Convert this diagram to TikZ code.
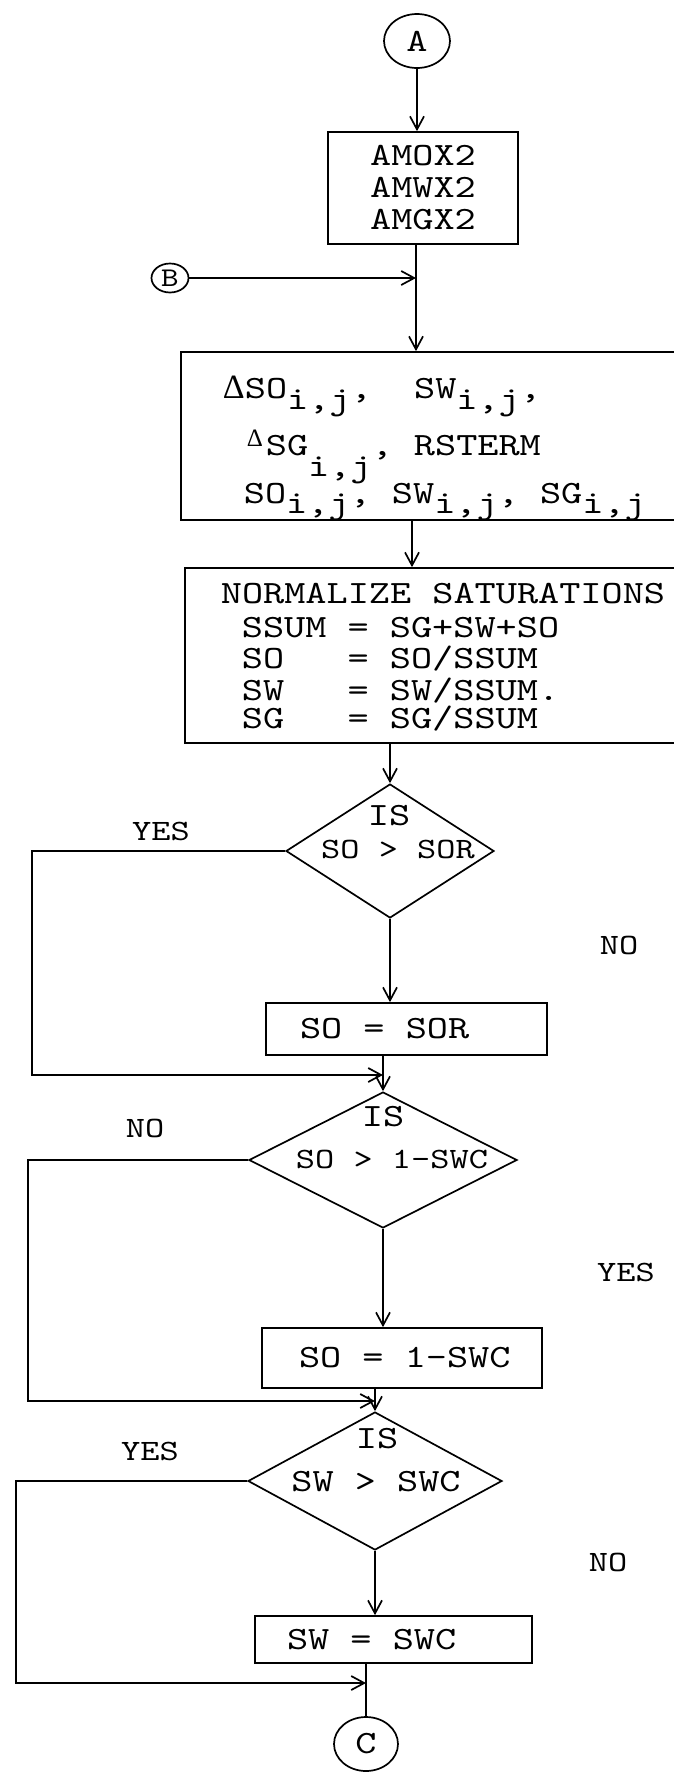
\documentclass[tikz,border=0pt]{standalone}
\usepackage{fontspec}
\usetikzlibrary{shapes.geometric,arrows.meta}
\newfontfamily\twfam{lmmono10-regular.otf}[FakeStretch=1.24,WordSpace={1,0,0}]
\newfontfamily\gfam{Liberation Serif}
\newcommand\tw{\twfam\fontsize{32.5}{32}\selectfont}
\newcommand\tws{\twfam\fontsize{29.5}{29}\selectfont}
\newcommand\twb{\twfam\fontsize{27}{27}\selectfont}
\newcommand\dbig{\gfam\fontsize{34}{34}\selectfont}
\newcommand\dsmall{\gfam\fontsize{25}{25}\selectfont}
\newcommand\lw[2]{\raisebox{-#1}{#2}}
\begin{document}
\begin{tikzpicture}[x=1pt,y=-1pt,
  line width=1.7pt,
  >={Straight Barb[length=13pt,width=14pt]},
  box/.style={draw, rectangle, inner sep=0pt, font=\tw},
  dia/.style={draw, diamond, inner sep=0pt},
  con/.style={draw, ellipse, inner sep=0pt, font=\tw},
  txt/.style={inner sep=0pt, font=\tw}]
\fill[white] (0,0) rectangle (674,1773);
\useasboundingbox (0,0) rectangle (674,1773);

% connectors (circles)
\node[con, minimum width=66, minimum height=54] (A) at (417,41) {A};
\node[con, minimum width=37, minimum height=29, font=\twb] (B) at (170,278) {B};
\node[con, minimum width=64, minimum height=54] (C) at (366,1744) {C};

% boxes
\node[box, minimum width=190, minimum height=112, align=center] (box1) at (423,188) {AMOX2\\AMWX2\\AMGX2};
\node[box, minimum width=510, minimum height=168] (box2) at (436,436) {};
\node[box, minimum width=510, minimum height=175] (box3) at (440,655.5) {};
\node[box, minimum width=281, minimum height=52] (box4) at (406.5,1029) {\makebox[213pt][l]{SO = SOR}};
\node[box, minimum width=280, minimum height=60] (box5) at (402,1358) {\makebox[206pt][l]{SO = 1-SWC}};
\node[box, minimum width=277, minimum height=47] (box6) at (393.5,1639.5) {\makebox[213pt][l]{SW = SWC}};

% box2 text
\node[txt, anchor=base west] (b2l1) at (222,398) {\makebox[22pt][c]{\dbig Δ}SO\lw{11pt}{i,j},\ \ SW\lw{11pt}{i,j},};
\node[txt, anchor=base west] (b2l2) at (243,455) {\raisebox{9pt}{\makebox[22pt][c]{\dsmall Δ}}SG\lw{21pt}{i,j},\ RSTERM};
\node[txt, anchor=base west] (b2l3) at (243,503) {SO\lw{10pt}{i,j},\ SW\lw{10pt}{i,j},\ SG\lw{10pt}{i,j}};

% box3 text
\node[txt, anchor=base west] (b3l1) at (220,603) {NORMALIZE SATURATIONS};
\node[txt, anchor=base west] (b3l2) at (241,637) {SSUM = SG+SW+SO};
\node[txt, anchor=base west] (b3l3) at (241,668) {SO\ \ \ = SO/SSUM};
\node[txt, anchor=base west] (b3l4) at (241,700) {SW\ \ \ = SW/SSUM.};
\node[txt, anchor=base west] (b3l5) at (241,728) {SG\ \ \ = SG/SSUM};

% decisions
\node[dia, minimum width=208, minimum height=134] (D1) at (390,851) {};
\node[dia, minimum width=268, minimum height=136] (D2) at (383,1160) {};
\node[dia, minimum width=254, minimum height=138] (D3) at (375,1481) {};
\node[txt] (d1a) at (389,816) {IS};
\node[txt, font=\tws] (d1b) at (398,849) {SO > SOR};
\node[txt] (d2a) at (383,1117) {IS};
\node[txt, font=\tws] (d2b) at (392,1159) {SO > 1-SWC};
\node[txt] (d3a) at (377,1439) {IS};
\node[txt] (d3b) at (376,1482) {SW > SWC};

% branch labels
\node[txt, font=\tws] (yes1) at (161,831) {YES};
\node[txt, font=\tws] (no1) at (619,945) {NO};
\node[txt, font=\tws] (no2) at (145,1128) {NO};
\node[txt, font=\tws] (yes2) at (626,1272) {YES};
\node[txt, font=\tws] (yes3) at (150,1451) {YES};
\node[txt, font=\tws] (no3) at (608,1562) {NO};

% main flow
\coordinate (jB) at (416,278);
\coordinate (c2) at (412,0);
\draw[->] (A) -- (A |- box1.north);
\draw[->] (jB |- box1.south) -- (jB |- box2.north);
\draw[->] (B) -- (jB);
\draw[->] (c2 |- box2.south) -- (c2 |- box3.north);
\draw[->] (D1 |- box3.south) -- (D1.north);
\draw[->] (D1.south) -- (D1 |- box4.north);
\draw[->] (D2 |- box4.south) -- (D2.north);
\draw[->] (D2.south) -- (D2 |- box5.north);
\draw[->] (D3 |- box5.south) -- (D3.north);
\draw[->] (D3.south) -- (D3 |- box6.north);
\draw (C |- box6.south) -- (C.north);

% bypass loops
\coordinate (L1) at (32,1075);
\coordinate (m1) at (D2.north |- L1);
\draw[->] (D1.west) -| (L1) -- (m1);
\coordinate (L2) at (28,1401);
\coordinate (m2) at (D3.north |- L2);
\draw[->] (D2.west) -| (L2) -- (m2);
\coordinate (L3) at (16,1683);
\coordinate (m3) at (C.north |- L3);
\draw[->] (D3.west) -| (L3) -- (m3);
\end{tikzpicture}
\end{document}
